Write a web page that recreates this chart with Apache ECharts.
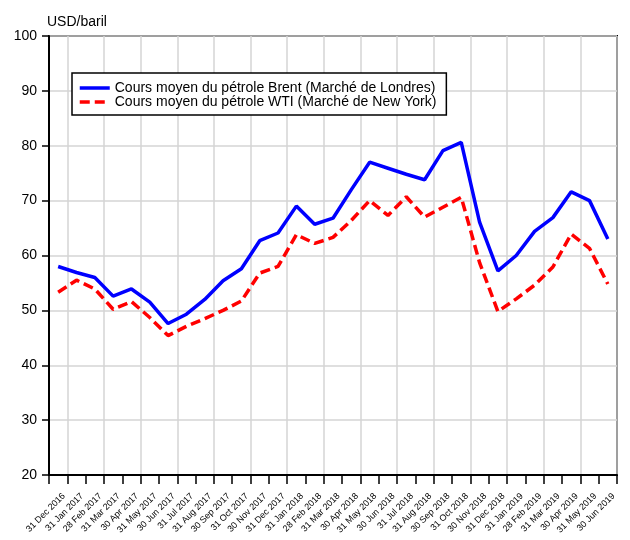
<!DOCTYPE html>
<html>
<head>
<meta charset="utf-8">
<script src="https://cdn.jsdelivr.net/npm/echarts@6/dist/echarts.min.js"></script>
<style>
  html, body { margin: 0; padding: 0; background: #fff; }
  #chart { width: 630px; height: 540px; }
</style>
</head>
<body>
<div id="chart"></div>
<script>
// fin de mois, déc. 2016 -> juin 2019
const months = [
  '31 Dec 2016', '31 Jan 2017', '28 Feb 2017', '31 Mar 2017', '30 Apr 2017', '31 May 2017',
  '30 Jun 2017', '31 Jul 2017', '31 Aug 2017', '30 Sep 2017', '31 Oct 2017', '30 Nov 2017',
  '31 Dec 2017', '31 Jan 2018', '28 Feb 2018', '31 Mar 2018', '30 Apr 2018', '31 May 2018',
  '30 Jun 2018', '31 Jul 2018', '31 Aug 2018', '30 Sep 2018', '31 Oct 2018', '30 Nov 2018',
  '31 Dec 2018', '31 Jan 2019', '28 Feb 2019', '31 Mar 2019', '30 Apr 2019', '31 May 2019',
  '30 Jun 2019'
];

// Brent (Londres)
const brent = [
  58.0, 56.9, 56.0, 52.6, 53.9, 51.5, 47.6, 49.3, 52.0, 55.4, 57.6, 62.7,
  64.1, 69.0, 65.7, 66.8, 72.0, 77.0, 75.9, 74.8, 73.8, 79.1, 80.6, 66.1,
  57.2, 60.0, 64.4, 66.9, 71.6, 70.0, 63.0
];

// WTI (New York)
const wti = [
  53.3, 55.5, 53.9, 50.2, 51.6, 48.7, 45.4, 47.1, 48.5, 50.0, 51.7, 56.8,
  58.0, 63.8, 62.2, 63.3, 66.4, 70.0, 67.3, 70.7, 67.0, 68.8, 70.6, 58.7,
  49.8, 52.1, 54.6, 57.9, 63.9, 61.3, 54.8
];

const seriesNames = [
  'Cours moyen du pétrole Brent (Marché de Londres)',
  'Cours moyen du pétrole WTI (Marché de New York)'
];

const FONT = "'Liberation Sans', Arial, sans-serif";

const chart = echarts.init(document.getElementById('chart'));

const option = {
  backgroundColor: '#fff',
  animation: false,
  textStyle: { fontFamily: FONT, color: '#000' },
  title: {
    text: 'USD/baril',
    left: 42, top: 10,
    textStyle: { fontFamily: FONT, fontSize: 14, fontWeight: 'normal', color: '#000' }
  },
  legend: {
    orient: 'vertical',
    left: 72, top: 73,
    padding: [8, 10, 6, 6],
    itemGap: 0,
    itemWidth: 30,
    itemHeight: 14,
    backgroundColor: '#fff',
    borderColor: '#000',
    borderWidth: 1.5,
    borderRadius: 0,
    itemStyle: { opacity: 0 },
    lineStyle: { width: 3.5 },
    textStyle: { fontFamily: FONT, fontSize: 14, lineHeight: 14, color: '#000' },
    data: seriesNames
  },
  grid: {
    left: 49, right: 13, top: 36, bottom: 65,
    show: true,
    borderColor: '#000',
    borderWidth: 2,
    containLabel: false
  },
  xAxis: {
    type: 'category',
    data: months,
    boundaryGap: true,
    axisLine: { show: true, lineStyle: { color: '#000', width: 2 } },
    axisTick: { show: true, interval: 0, length: 9, lineStyle: { color: '#000', width: 1.5 } },
    axisLabel: {
      interval: 0, rotate: 45, margin: 14,
      lineHeight: 16,
      // ligne vide devant : décale le texte vers le bas-droite comme l'original
      formatter: function (v) { return '\n' + v; },
      fontFamily: FONT, fontSize: 9, color: '#000'
    },
    splitLine: {
      show: true,
      interval: function (i) { return i % 2 === 1; },
      lineStyle: { color: '#d4d4d4', width: 1.5 }
    }
  },
  yAxis: {
    type: 'value',
    min: 20, max: 100, interval: 10,
    axisLine: { show: true, lineStyle: { color: '#000', width: 2 } },
    axisTick: { show: true, length: 7, lineStyle: { color: '#000', width: 1.5 } },
    axisLabel: { margin: 12, fontFamily: FONT, fontSize: 14, color: '#000' },
    splitLine: { show: true, lineStyle: { color: '#d4d4d4', width: 1.5 } }
  },
  series: [
    {
      name: seriesNames[0],
      type: 'line',
      data: brent,
      symbol: 'none',
      itemStyle: { color: '#0000ff' },
      lineStyle: { color: '#0000ff', width: 3.5 }
    },
    {
      name: seriesNames[1],
      type: 'line',
      data: wti,
      symbol: 'none',
      itemStyle: { color: '#ff0000' },
      lineStyle: { color: '#ff0000', width: 3.5, type: [10, 5] }
    }
  ]
};

chart.setOption(option);
</script>
</body>
</html>
